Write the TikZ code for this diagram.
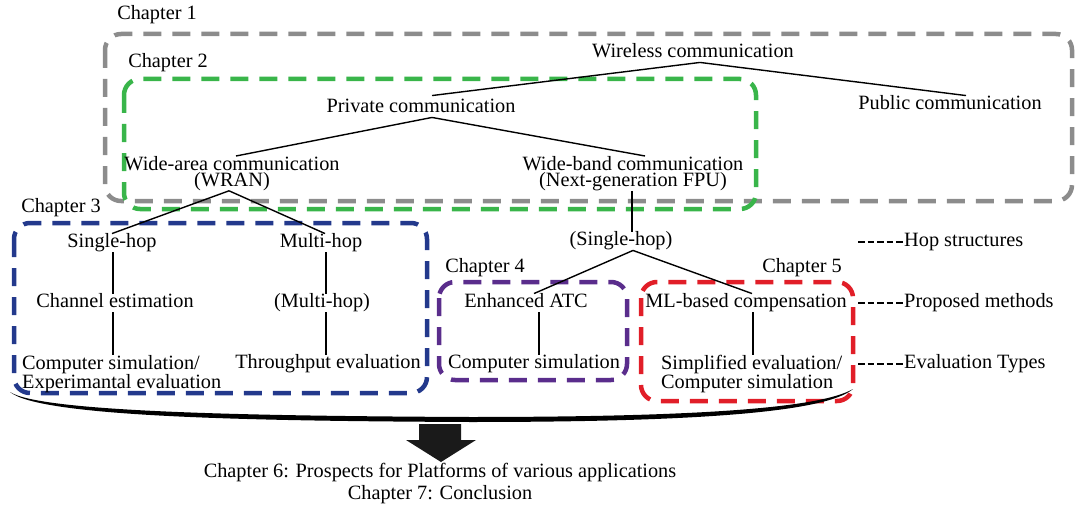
\documentclass[tikz,border=0pt]{standalone}
\usepackage{fontspec}
\setmainfont{Liberation Serif}
\definecolor{boxgray}{RGB}{140,140,140}
\definecolor{boxgreen}{RGB}{57,181,74}
\definecolor{boxnavy}{RGB}{35,57,140}
\definecolor{boxpurple}{RGB}{90,45,140}
\definecolor{boxred}{RGB}{225,30,40}
\definecolor{arrowfill}{RGB}{26,26,26}
\begin{document}
\begin{tikzpicture}[x=1pt,y=-1pt,
  every node/.style={font=\fontsize{20.3pt}{16pt}\selectfont, inner sep=0pt},
  lbl/.style={text height=14pt, text depth=4.5pt},
  conn/.style={line width=1.4pt, black},
  chbox/.style={line width=4.5pt, rounded corners=16pt, dash pattern=on 18pt off 11pt},
  legenddash/.style={line width=1.3pt, dash pattern=on 6.5pt off 3pt, shorten >=1.5pt},
]
\useasboundingbox (0,0) rectangle (1081,508);

% chapter frames
\draw[chbox, boxgray]   (105,34)  rectangle (1072,201);
\draw[chbox, boxgreen]  (124,79)  rectangle (756,209);
\draw[chbox, boxnavy]   (14,223)  rectangle (427,393);
\draw[chbox, boxpurple] (439,282) rectangle (627,380);
\draw[chbox, boxred]    (641,282) rectangle (853,401);

% chapter labels
\node[lbl] (ch1) at (157,15)  {Chapter 1};
\node[lbl] (ch2) at (168,63)  {Chapter 2};
\node[lbl] (ch3) at (61,208)  {Chapter 3};
\node[lbl] (ch4) at (485,268) {Chapter 4};
\node[lbl] (ch5) at (802,268) {Chapter 5};

% classification tree
\node[lbl] (wireless) at (693,53)  {Wireless communication};
\node[lbl] (public)   at (950,105) {Public communication};
\node[lbl] (private)  at (421,108) {Private communication};
\node[align=center, anchor=north] (widearea) at (232,156)
  {Wide-area communication\\(WRAN)};
\node[align=center, anchor=north] (wideband) at (633,156)
  {Wide-band communication\\(Next-generation FPU)};
\node[lbl] (sh)      at (621,241) {(Single-hop)};
\node[lbl] (single)  at (112,243) {Single-hop};
\node[lbl] (multi)   at (321,243) {Multi-hop};
\node[lbl] (chan)    at (115,303) {Channel estimation};
\node[lbl] (multib)  at (322,303) {(Multi-hop)};
\node[align=left, anchor=north west] (compexp) at (22,355)
  {Computer simulation/\\Experimantal evaluation};
\node[lbl] (thr)     at (328,364) {Throughput evaluation};
\node[lbl] (atc)     at (526,303) {Enhanced ATC};
\node[lbl] (compsim) at (534,364) {Computer simulation};
\node[lbl] (ml)      at (746,303) {ML-based compensation};
\node[align=left, anchor=north west] (simp) at (661,355)
  {Simplified evaluation/\\Computer simulation};

% legend
\node[lbl, anchor=west] (hop)  at (904,242) {Hop structures};
\node[lbl, anchor=west] (prop) at (904,303) {Proposed methods};
\node[lbl, anchor=west] (eval) at (904,364) {Evaluation Types};
\coordinate (hopd)  at (858,242);
\coordinate (propd) at (858,303);
\coordinate (evald) at (858,364);
\draw[legenddash] (hopd) -- (hop.west);
\draw[legenddash] (propd) -- (prop.west);
\draw[legenddash] (evald) -- (eval.west);

% tree connectors
\draw[conn] ([xshift=7pt]wireless.south) -- ([xshift=11pt,yshift=3pt]private.north);
\draw[conn] ([xshift=7pt]wireless.south) -- ([xshift=16pt]public.north);
\draw[conn] ([xshift=11pt]private.south) -- ([xshift=4pt]widearea.north);
\draw[conn] ([xshift=11pt]private.south) -- ([xshift=12pt]wideband.north);
\draw[conn] ([xshift=-1pt]wideband.south) -- ([xshift=-1pt]wideband.south |- sh.north);
\draw[conn] ([xshift=-3pt]widearea.south) -- (single.north);
\draw[conn] ([xshift=-3pt]widearea.south) -- ([xshift=4pt]multi.north);
\draw[conn] ([xshift=1pt]single.south) -- ([xshift=1pt]single.south |- chan.north);
\draw[conn] ([xshift=1pt]single.south |- chan.south) -- ([xshift=1pt]single.south |- compexp.north);
\draw[conn] ([xshift=5pt]multi.south) -- ([xshift=5pt]multi.south |- multib.north);
\draw[conn] ([xshift=5pt]multi.south |- multib.south) -- ([xshift=5pt]multi.south |- thr.north);
\draw[conn] ([xshift=12pt]sh.south) -- ([xshift=8pt]atc.north);
\draw[conn] ([xshift=12pt]sh.south) -- ([xshift=6pt]ml.north);
\draw[conn] ([xshift=13pt]atc.south) -- ([xshift=13pt]atc.south |- compsim.north);
\draw[conn] ([xshift=7pt]ml.south) -- ([xshift=7pt]ml.south |- simp.north);

% brace gathering chapters 3 to 5
\fill[black] (10,392) .. controls (40,412) and (250,416) .. (470,417)
  .. controls (700,417) and (820,408) .. (853,389)
  .. controls (826,412) and (700,422) .. (470,422)
  .. controls (250,421) and (40,417) .. (10,392) -- cycle;

% block arrow
\fill[arrowfill] (419,424) -- (461,424) -- (461,440) -- (476,440) -- (441,462)
  -- (406,440) -- (419,440) -- cycle;

\node[align=center, anchor=north,
  font=\fontsize{20.3pt}{22pt}\selectfont] (concl) at (440,463)
  {Chapter 6: Prospects for Platforms of various applications\\Chapter 7: Conclusion};
\end{tikzpicture}
\end{document}
